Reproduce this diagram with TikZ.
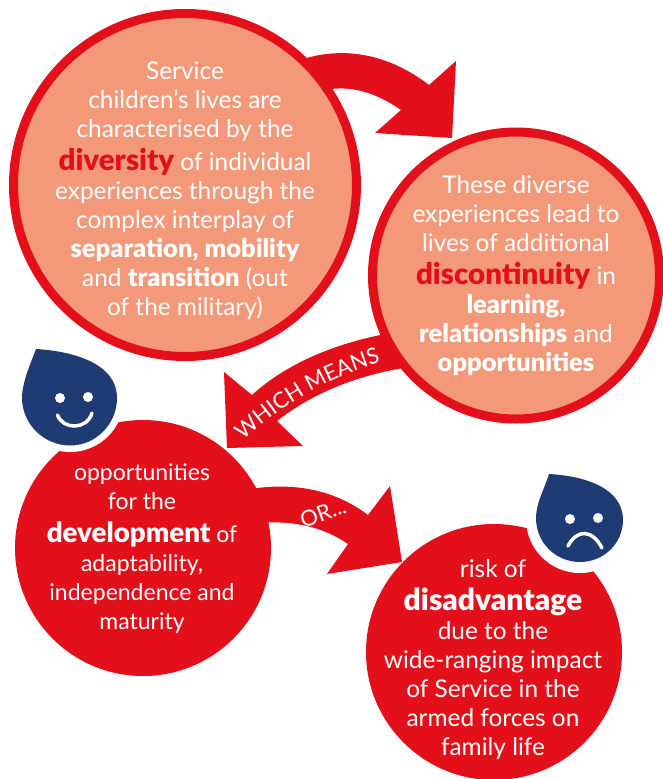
\documentclass[tikz,border=0pt]{standalone}
\usepackage{fontspec}
\setmainfont[BoldFont={Lato Black}]{Lato}
\usetikzlibrary{decorations.text}
\definecolor{ringred}{HTML}{E30F1A}
\definecolor{peach}{HTML}{F3997A}
\definecolor{dropblue}{HTML}{1F3B73}
\newcommand{\bigb}[2]{{\fontsize{#1}{29}\selectfont\bfseries #2}}
\newcommand{\mb}[1]{{\fontsize{25.5}{29}\selectfont\bfseries #1}}
\tikzset{
  x=1pt,y=-1pt,
  ringcircle/.style={circle,draw=ringred,line width=9pt,fill=peach,inner sep=0pt,text=white},
  redcircle/.style={circle,fill=ringred,inner sep=0pt},
  halo/.style={circle,fill=white,inner sep=0pt,minimum size=108pt},
  bubbletext/.style={align=center,text=white,inner sep=0pt,anchor=north,font=\fontsize{24.4}{29}\selectfont},
  bluntarrow/.style={fill=ringred},
  dropshape/.style={fill=dropblue},
  eye/.style={circle,fill=white,inner sep=0pt,minimum size=10pt},
  mouth/.style={draw=white,line width=3.5pt,line cap=round}
}
\begin{document}
\begin{tikzpicture}
\useasboundingbox (0,0) rectangle (663,779);
\clip (0,0) rectangle (663,779);
\fill[white] (0,0) rectangle (663,779);
% arrows
\fill[bluntarrow] (300,60) .. controls (345,45) and (390,55) .. (429,85) -- (456,61) -- (452,138) -- (375,133) -- (401,110) .. controls (375,92) and (350,85) .. (325,90) -- cycle;
\fill[bluntarrow] (385,334) .. controls (330,345) and (285,365) .. (252,395) -- (224,372) -- (227,448) -- (303,446) -- (277,421) .. controls (310,395) and (355,375) .. (410,367) -- cycle;
\fill[bluntarrow] (250,489) .. controls (295,482) and (335,490) .. (368,515) -- (390,486) -- (402,562) -- (327,574) -- (348,544) .. controls (325,528) and (295,520) .. (260,523) -- cycle;
% circles
\node[ringcircle,minimum size=343pt] (c1) at (185,185) {};
\node[ringcircle,minimum size=287pt] (c2) at (516,275.5) {};
\node[redcircle,minimum size=256pt] (c3) at (143,548) {};
\node[redcircle,minimum size=256pt] (c4) at (494,652) {};
% halos
\node[halo] (h1) at (70,398) {};
\node[halo] (h2) at (580,519) {};
% drops
\fill[dropshape] (36,349) .. controls (70,351) and (117,362) .. (117,398) .. controls (117,424) and (96,445.5) .. (70,445.5) .. controls (44,445.5) and (22,424) .. (22,398) .. controls (22,383) and (30,365) .. (36,349) -- cycle;
\fill[dropshape] (549,474) .. controls (585,476) and (623,488) .. (623,520) .. controls (623,543) and (604,562) .. (580,562) .. controls (556,562) and (536,543) .. (536,518) .. controls (536,503) and (544,490) .. (549,474) -- cycle;
% faces
\node[eye] (e1) at (60,398) {};
\node[eye] (e2) at (88,397) {};
\draw[mouth] (57.5,415) .. controls (63,430) and (87,430) .. (92,413);
\node[eye] (e3) at (570,519) {};
\node[eye] (e4) at (598,518) {};
\draw[mouth] (568,546) .. controls (577,529) and (592,529) .. (602,548);
% texts
\node[bubbletext] (t1) at (185,61) {Service\\children’s lives are\\characterised by the\\[4pt]{\fontsize{29.5}{29}\selectfont\bfseries\textcolor{ringred}{diversity}} of individual\\experiences through the\\complex interplay of\\\mb{separation, mobility}\\and \mb{transition} (out\\of the military)};
\node[bubbletext] (t2) at (516,175) {These diverse\\experiences lead to\\lives of additional\\[4pt]{\fontsize{29.5}{29}\selectfont\bfseries\textcolor{ringred}{discontinuity}} in\\\mb{learning,}\\\mb{relationships} and\\\mb{opportunities}};
\node[bubbletext,font=\fontsize{23}{29}\selectfont] (t3) at (142,463) {opportunities\\for the\\[4pt]\bigb{27.7}{development} of\\adaptability,\\independence and\\maturity};
\node[bubbletext] (t4) at (493,559) {risk of\\[4pt]\bigb{30}{disadvantage}\\due to the\\wide-ranging impact\\of Service in the\\armed forces on\\family life};
% arrow labels
\path[decorate,decoration={text along path,text align=center,text={|\fontsize{22}{22}\selectfont\color{white}|WHICH MEANS}}] (238,446) .. controls (277,407) and (327,377) .. (388,360);
\node[text=white,rotate=20,inner sep=0pt,font=\fontsize{22}{22}\selectfont] (orlabel) at (323,513) {OR...};
\end{tikzpicture}
\end{document}
